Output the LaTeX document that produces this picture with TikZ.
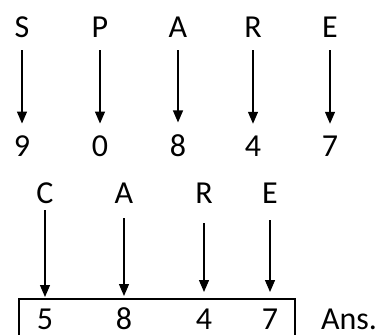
\documentclass[tikz,border=0pt]{standalone}
\usepackage{fontspec}
\setmainfont{Carlito}
\usetikzlibrary{arrows.meta}
\begin{document}
\begin{tikzpicture}[x=1pt,y=-1pt,
  lbl/.style={inner sep=0pt,anchor=base,font=\fontsize{32}{38}\selectfont},
  arr/.style={line width=1.3pt,-{Triangle[width=10pt,length=12pt]}},
  ansbox/.style={draw,line width=1.6pt,anchor=north west,minimum width=276pt,minimum height=60pt,inner sep=0pt}]
\clip (0,0) rectangle (382,334);
% top row letters
\node[lbl] (s1) at (22,38) {S};
\node[lbl] (p1) at (100,38) {P};
\node[lbl] (a1) at (178,38) {A};
\node[lbl] (r1) at (253,38) {R};
\node[lbl] (e1) at (330,38) {E};
% top row digits
\node[lbl] (n9) at (22,156.5) {9};
\node[lbl] (n0) at (100,156.5) {0};
\node[lbl] (n8) at (178,156.5) {8};
\node[lbl] (n4) at (253,156.5) {4};
\node[lbl] (n7) at (330,156.5) {7};
\foreach \a/\b in {s1/n9,p1/n0,a1/n8,r1/n4,e1/n7}
  \draw[arr,shorten <=12pt,shorten >=12pt] (\a) -- (\b);
% bottom row
\node[ansbox] (box) at (18,298) {};
\node[lbl] (c2) at (45,203) {C};
\node[lbl] (a2) at (124,203) {A};
\node[lbl] (r2) at (204,203) {R};
\node[lbl] (e2) at (270,203) {E};
\node[lbl] (d5) at (45,329) {5};
\node[lbl] (d8) at (124,329) {8};
\node[lbl] (d4) at (204,329) {4};
\node[lbl] (d7) at (270,329) {7};
\node[lbl] (ans) at (349,329) {Ans.};
\draw[arr,shorten <=7pt,shorten >=1pt] (c2) -- (c2 |- box.north);
\draw[arr,shorten <=15pt,shorten >=2pt] (a2) -- (a2 |- box.north);
\draw[arr,shorten <=20pt,shorten >=6pt] (r2) -- (r2 |- box.north);
\draw[arr,shorten <=17pt,shorten >=6pt] (e2) -- (e2 |- box.north);
\end{tikzpicture}
\end{document}
